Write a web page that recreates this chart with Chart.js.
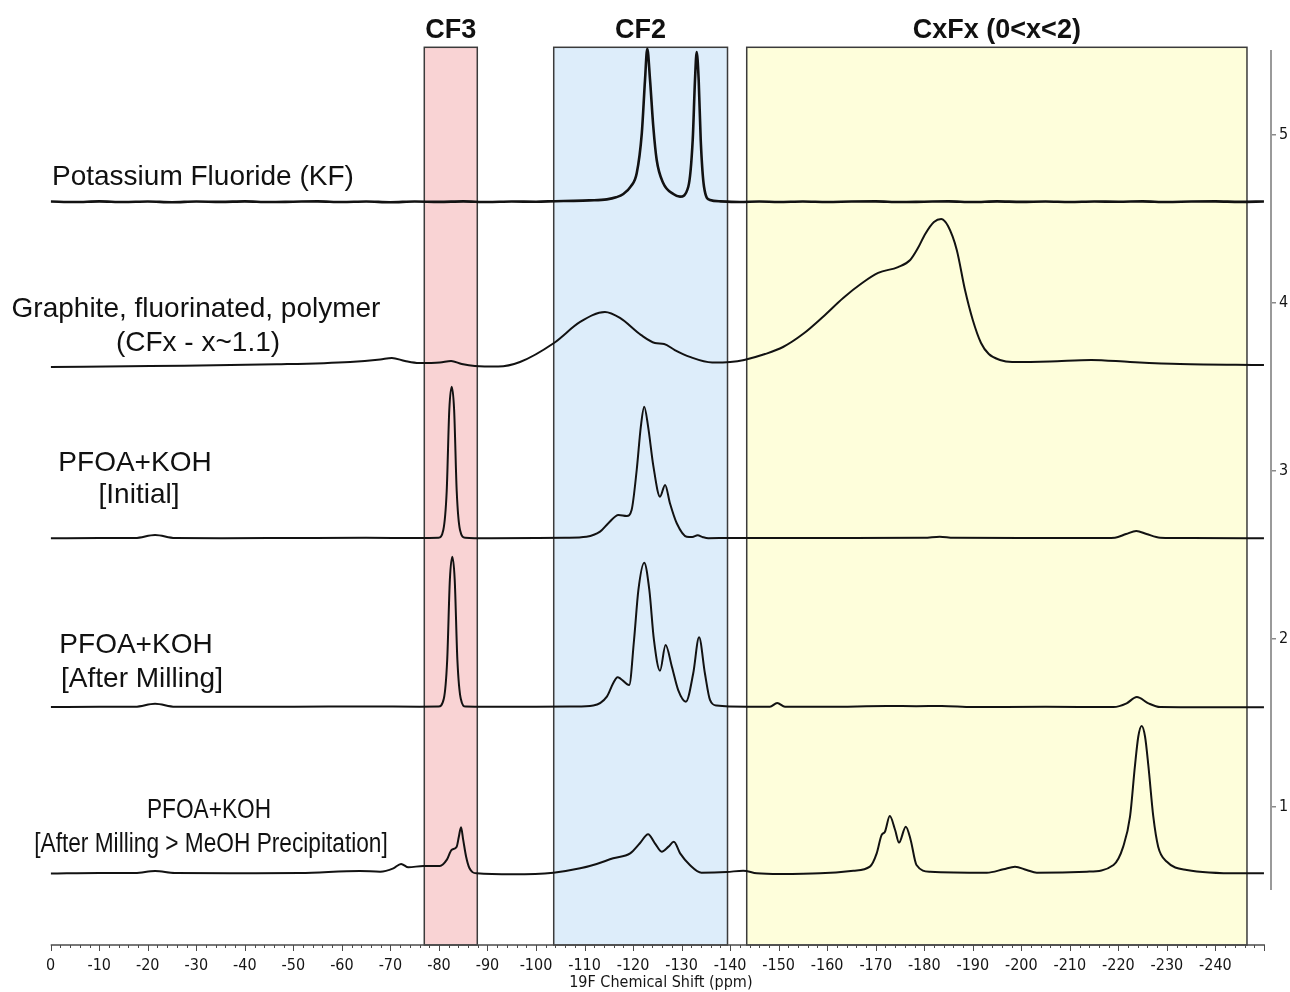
<!DOCTYPE html>
<html>
<head>
<meta charset="utf-8">
<title>19F NMR spectra</title>
<script src="https://cdn.jsdelivr.net/npm/chart.js@4.4.1/dist/chart.umd.min.js"></script>
<style>
  html, body { margin: 0; padding: 0; background: #fff; }
  #wrap { width: 1290px; height: 992px; position: relative; }
</style>
</head>
<body>
<div id="wrap"><canvas id="nmr-chart"></canvas></div>
<script>
/* ---- data (x = 19F shift in ppm, y = stacked intensity) ---- */

// Potassium Fluoride (KF)
var kfShift = [0, -5, -10, -15, -20, -25, -30, -35, -40, -45, -50, -55, -60, -65, -70, -75, -80, -85, -90, -95, -100,
  -104, -107.7, -111, -114.6, -116.5, -118, -119.5, -120.75, -121.8, -122.46, -122.93, -123.5, -124.17, -124.87,
  -126.23, -128.3, -129.67, -131.38, -132.29, -132.76, -133.11, -133.52, -133.94, -134.62, -135.85, -138,
  -142, -146, -150,
  -155, -160, -165, -170, -175, -180, -185, -190, -195, -200, -205, -210, -215, -220, -225, -230, -235, -240, -245, -250];
var kfValue = [4.601, 4.598, 4.602, 4.598, 4.601, 4.597, 4.601, 4.599, 4.602, 4.598, 4.600, 4.602, 4.598, 4.601, 4.597, 4.601, 4.599, 4.602, 4.598, 4.601, 4.600,
  4.603, 4.605, 4.608, 4.614, 4.626, 4.646, 4.690, 4.769, 5.007, 5.324, 5.510, 5.324, 5.046, 4.848,
  4.710, 4.646, 4.630, 4.689, 4.967, 5.324, 5.490, 5.324, 4.967, 4.689, 4.610, 4.602,
  4.598, 4.601, 4.598,
  4.601, 4.598, 4.601, 4.602, 4.598, 4.600, 4.602, 4.598, 4.602, 4.599, 4.601, 4.598, 4.601, 4.600, 4.602, 4.598, 4.601, 4.602, 4.599, 4.601];

// Graphite, fluorinated, polymer (CFx)
var cfxShift = [0, -20.5, -46.6, -61.7, -67.9, -70.3, -73.0, -75.9, -80.2, -82.5, -84.7, -87.4, -92.2, -96.7, -103.7,
  -109.1, -114.2, -117.3, -121.6, -124.5, -126.4, -128.6, -131.7, -136.3, -140.0, -142.9, -147.2, -150.9, -155.0, -159.1,
  -163.3, -167.2, -170.5, -174.6, -177.1, -178.7, -180.2, -182.0, -183.5, -184.9, -186.7, -188.4, -190.0, -191.7, -193.3,
  -195.6, -198.1, -205.9, -214.4, -222.4, -232.7, -250];
var cfxValue = [3.616, 3.622, 3.632, 3.646, 3.661, 3.670, 3.652, 3.640, 3.643, 3.652, 3.634, 3.622, 3.619, 3.646, 3.759,
  3.884, 3.943, 3.908, 3.807, 3.759, 3.753, 3.717, 3.676, 3.643, 3.646, 3.658, 3.693, 3.735, 3.812, 3.914,
  4.027, 4.116, 4.176, 4.211, 4.253, 4.324, 4.408, 4.479, 4.497, 4.455, 4.313, 4.074, 3.896, 3.759, 3.693,
  3.658, 3.646, 3.649, 3.658, 3.646, 3.634, 3.628];

// PFOA+KOH [Initial]
var initShift = [0, -10, -17.4, -21.5, -25.6, -35, -50, -65, -76, -79.9, -80.9, -81.6, -82.13, -82.63, -83.13,
  -83.66, -84.34, -85.4, -90, -100, -106, -110.4, -113.2, -114.9, -117.0, -118.7, -119.7, -120.75, -121.6, -122.3,
  -123.1, -124.2, -125.55, -126.6, -127.6, -129.0, -131.05, -132.2, -133.3, -134.4, -135.5, -140, -160, -180, -183.2,
  -186, -200, -215, -219.3, -221.6, -223.7, -225.8, -228.6, -235, -250];
var initValue = [2.596, 2.598, 2.598, 2.616, 2.598, 2.597, 2.598, 2.599, 2.598, 2.600, 2.646, 2.878, 3.360, 3.499, 3.360,
  2.878, 2.646, 2.600, 2.597, 2.598, 2.600, 2.606, 2.636, 2.686, 2.735, 2.729, 2.765, 3.003, 3.261, 3.380,
  3.261, 3.023, 2.844, 2.914, 2.805, 2.686, 2.606, 2.604, 2.614, 2.603, 2.597, 2.598, 2.598, 2.599, 2.606,
  2.599, 2.598, 2.598, 2.600, 2.622, 2.640, 2.622, 2.600, 2.598, 2.596];

// PFOA+KOH [After Milling]
var milledShift = [0, -10, -17.4, -21.5, -25.6, -35, -50, -65, -76, -79.9, -81.0, -81.7, -82.25, -82.75, -83.25,
  -83.8, -84.5, -85.5, -90, -100, -108, -111.8, -114.6, -115.9, -116.8, -119.2, -120.2, -121.1, -122.3, -123.35,
  -124.3, -125.55, -126.7, -128.0, -129.3, -130.9, -132.4, -133.6, -134.8, -135.85, -137.2, -143.4, -148.2, -149.7, -151.3,
  -160, -172.3, -178.4, -183.6, -190, -205, -219.0, -221.7, -223.8, -226.2, -228.6, -235, -250];
var milledValue = [1.592, 1.594, 1.594, 1.612, 1.594, 1.594, 1.594, 1.595, 1.594, 1.595, 1.641, 1.872, 2.349, 2.487, 2.349,
  1.872, 1.641, 1.595, 1.594, 1.594, 1.595, 1.601, 1.654, 1.734, 1.770, 1.723, 1.991, 2.289, 2.451, 2.289,
  1.991, 1.808, 1.961, 1.832, 1.693, 1.624, 1.793, 2.007, 1.793, 1.634, 1.601, 1.594, 1.594, 1.616, 1.594,
  1.593, 1.598, 1.597, 1.598, 1.592, 1.593, 1.592, 1.614, 1.652, 1.614, 1.592, 1.591, 1.590];

// PFOA+KOH [After Milling > MeOH Precipitation]
var meohShift = [0, -10, -17.4, -21.5, -25.6, -40, -51.4, -63.7, -67.9, -70.6, -72.2, -73.7, -76.8, -80.2, -81.6,
  -82.6, -83.66, -84.1, -84.55, -85.0, -85.6, -86.3, -87.8, -95.3, -103.6, -109.1, -112.5, -115.9, -119.4, -121.4,
  -123.1, -124.5, -125.9, -127.3, -128.4, -129.7, -131.7, -134.1, -139.3, -142.7, -145.5, -150.3, -158.5, -165.4, -168.8,
  -170.2, -171.2, -171.9, -172.9, -174.0, -174.8, -176.2, -177.2, -178.4, -181.2, -192.9, -196.3, -198.7, -201.1, -203.2,
  -213.5, -219.0, -221.0, -222.4, -223.4, -224.1, -224.8, -225.5, -226.2, -227.2, -228.2, -230.0, -234.1, -245.1, -250];
var meohValue = [0.601, 0.604, 0.604, 0.616, 0.604, 0.603, 0.604, 0.616, 0.612, 0.632, 0.658, 0.638, 0.646, 0.646, 0.682,
  0.741, 0.761, 0.820, 0.876, 0.801, 0.701, 0.632, 0.602, 0.596, 0.606, 0.632, 0.658, 0.692, 0.721, 0.781,
  0.835, 0.781, 0.731, 0.761, 0.790, 0.721, 0.652, 0.606, 0.610, 0.618, 0.602, 0.598, 0.602, 0.618, 0.642,
  0.721, 0.830, 0.850, 0.943, 0.860, 0.785, 0.880, 0.801, 0.652, 0.612, 0.606, 0.626, 0.642, 0.622, 0.606,
  0.612, 0.652, 0.761, 0.939, 1.237, 1.415, 1.479, 1.415, 1.237, 0.939, 0.761, 0.671, 0.622, 0.602, 0.602];

// shaded assignment regions (ppm)
var regionNames = ["CF3", "CF2", "CxFx (0<x<2)"];
var regionFrom = [-76.98, -103.65, -143.42];
var regionTo = [-87.9, -139.46, -246.5];

// axis ticks
var yTickValues = [1, 2, 3, 4, 5];

/* ---- styling ---- */
var regionColors = ["#f9d3d4", "#ddedfa", "#fefedb"];
var AXIS_FONT = '"DejaVu Sans Condensed", "DejaVu Sans", sans-serif';
var LABEL_FONT = '"Liberation Sans", Arial, sans-serif';

function toPoints(shift, value) {
  return shift.map(function (s, i) { return { x: s, y: value[i] }; });
}

function drawLabel(ctx, text, x, y, size, squeeze) {
  ctx.save();
  ctx.translate(x, y);
  if (squeeze) ctx.scale(squeeze, 1);
  ctx.font = size + "px " + LABEL_FONT;
  ctx.fillText(text, 0, 0);
  ctx.restore();
}

var nmrOverlay = {
  id: "nmrOverlay",
  beforeDatasetsDraw: function (chart) {
    var ctx = chart.ctx, area = chart.chartArea;
    var xs = chart.scales.x, ys = chart.scales.y;
    var top = ys.getPixelForValue(ys.max);
    ctx.save();
    regionFrom.forEach(function (from, i) {
      var x0 = xs.getPixelForValue(from), x1 = xs.getPixelForValue(regionTo[i]);
      ctx.fillStyle = regionColors[i];
      ctx.fillRect(x0, top, x1 - x0, area.bottom - top);
      ctx.strokeStyle = "#3b3b3b";
      ctx.lineWidth = 1.5;
      ctx.strokeRect(x0, top, x1 - x0, area.bottom - top);
    });
    ctx.restore();
  },
  afterDatasetsDraw: function (chart) {
    var ctx = chart.ctx, area = chart.chartArea;
    var xs = chart.scales.x, ys = chart.scales.y;
    ctx.save();

    // region headings
    ctx.fillStyle = "#111";
    ctx.textAlign = "center";
    ctx.textBaseline = "alphabetic";
    ctx.font = "bold 27px " + LABEL_FONT;
    regionNames.forEach(function (name, i) {
      var cx = (xs.getPixelForValue(regionFrom[i]) + xs.getPixelForValue(regionTo[i])) / 2;
      ctx.fillText(name, cx, 38);
    });

    // sample labels
    ctx.textAlign = "left";
    drawLabel(ctx, "Potassium Fluoride (KF)", 52, 185, 28);
    ctx.textAlign = "center";
    drawLabel(ctx, "Graphite, fluorinated, polymer", 196, 317, 28);
    drawLabel(ctx, "(CFx - x~1.1)", 198, 351, 28);
    drawLabel(ctx, "PFOA+KOH", 135, 471, 28);
    drawLabel(ctx, "[Initial]", 139, 503, 28);
    drawLabel(ctx, "PFOA+KOH", 136, 653, 28);
    drawLabel(ctx, "[After Milling]", 142, 687, 28);
    drawLabel(ctx, "PFOA+KOH", 209, 818, 27, 0.84);
    drawLabel(ctx, "[After Milling > MeOH Precipitation]", 211, 852, 27, 0.84);

    // bottom axis line with minor / major ticks
    var xLeft = xs.getPixelForValue(0), xRight = xs.getPixelForValue(-250.2);
    ctx.strokeStyle = "#4a4a4a";
    ctx.lineWidth = 1.5;
    ctx.beginPath();
    ctx.moveTo(xLeft, area.bottom);
    ctx.lineTo(xRight, area.bottom);
    ctx.stroke();
    ctx.lineWidth = 1;
    ctx.beginPath();
    for (var v = 0; v >= -250; v -= 2) {
      var px = Math.round(xs.getPixelForValue(v)) + 0.5;
      ctx.moveTo(px, area.bottom);
      ctx.lineTo(px, area.bottom + (v % 10 === 0 ? 6 : 3));
    }
    ctx.stroke();

    // right intensity axis line
    ctx.strokeStyle = "#9a9a9a";
    ctx.lineWidth = 2;
    ctx.beginPath();
    ctx.moveTo(area.right, ys.getPixelForValue(5.503));
    ctx.lineTo(area.right, ys.getPixelForValue(0.503));
    ctx.stroke();
    ctx.restore();
  }
};

var traces = [
  { name: "Potassium Fluoride (KF)", shift: kfShift, value: kfValue, width: 2.6 },
  { name: "Graphite, fluorinated, polymer", shift: cfxShift, value: cfxValue, width: 2 },
  { name: "PFOA+KOH [Initial]", shift: initShift, value: initValue, width: 2 },
  { name: "PFOA+KOH [After Milling]", shift: milledShift, value: milledValue, width: 2 },
  { name: "PFOA+KOH [After Milling > MeOH Precipitation]", shift: meohShift, value: meohValue, width: 2 }
];

var ctx = document.getElementById("nmr-chart").getContext("2d");
new Chart(ctx, {
  type: "line",
  data: {
    datasets: traces.map(function (t) {
      return {
        label: t.name,
        data: toPoints(t.shift, t.value),
        borderColor: "#121212",
        borderWidth: t.width,
        pointRadius: 0,
        fill: false,
        cubicInterpolationMode: "monotone"
      };
    })
  },
  options: {
    responsive: true,
    maintainAspectRatio: false,
    animation: false,
    devicePixelRatio: 1,
    layout: { padding: { left: 50.7, top: 47.3, right: 0, bottom: 0 } },
    plugins: {
      legend: { display: false },
      tooltip: { enabled: false }
    },
    scales: {
      x: {
        type: "linear",
        reverse: true,
        min: -251.45,
        max: 0,
        border: { display: false },
        grid: { display: false, drawTicks: false },
        ticks: {
          stepSize: 10,
          includeBounds: false,
          autoSkip: false,
          maxRotation: 0,
          padding: 11,
          color: "#151515",
          font: { family: AXIS_FONT, size: 16 },
          callback: function (v) { return v < -245 ? "" : String(Math.round(v)); }
        },
        title: {
          display: true,
          text: "19F Chemical Shift (ppm)",
          color: "#151515",
          font: { family: AXIS_FONT, size: 16 },
          padding: 0
        },
        afterFit: function (scale) { scale.height = 47; }
      },
      y: {
        type: "linear",
        position: "right",
        min: 0.1755,
        max: 5.519,
        border: { display: false },
        grid: { drawOnChartArea: false, drawTicks: true, tickLength: 5, color: "#8a8a8a", lineWidth: 1.5 },
        afterBuildTicks: function (scale) {
          scale.ticks = yTickValues.map(function (v) { return { value: v }; });
        },
        ticks: {
          padding: 3,
          color: "#151515",
          font: { family: AXIS_FONT, size: 16 }
        },
        afterFit: function (scale) { scale.width = 19; }
      }
    }
  },
  plugins: [nmrOverlay]
});
</script>
</body>
</html>
